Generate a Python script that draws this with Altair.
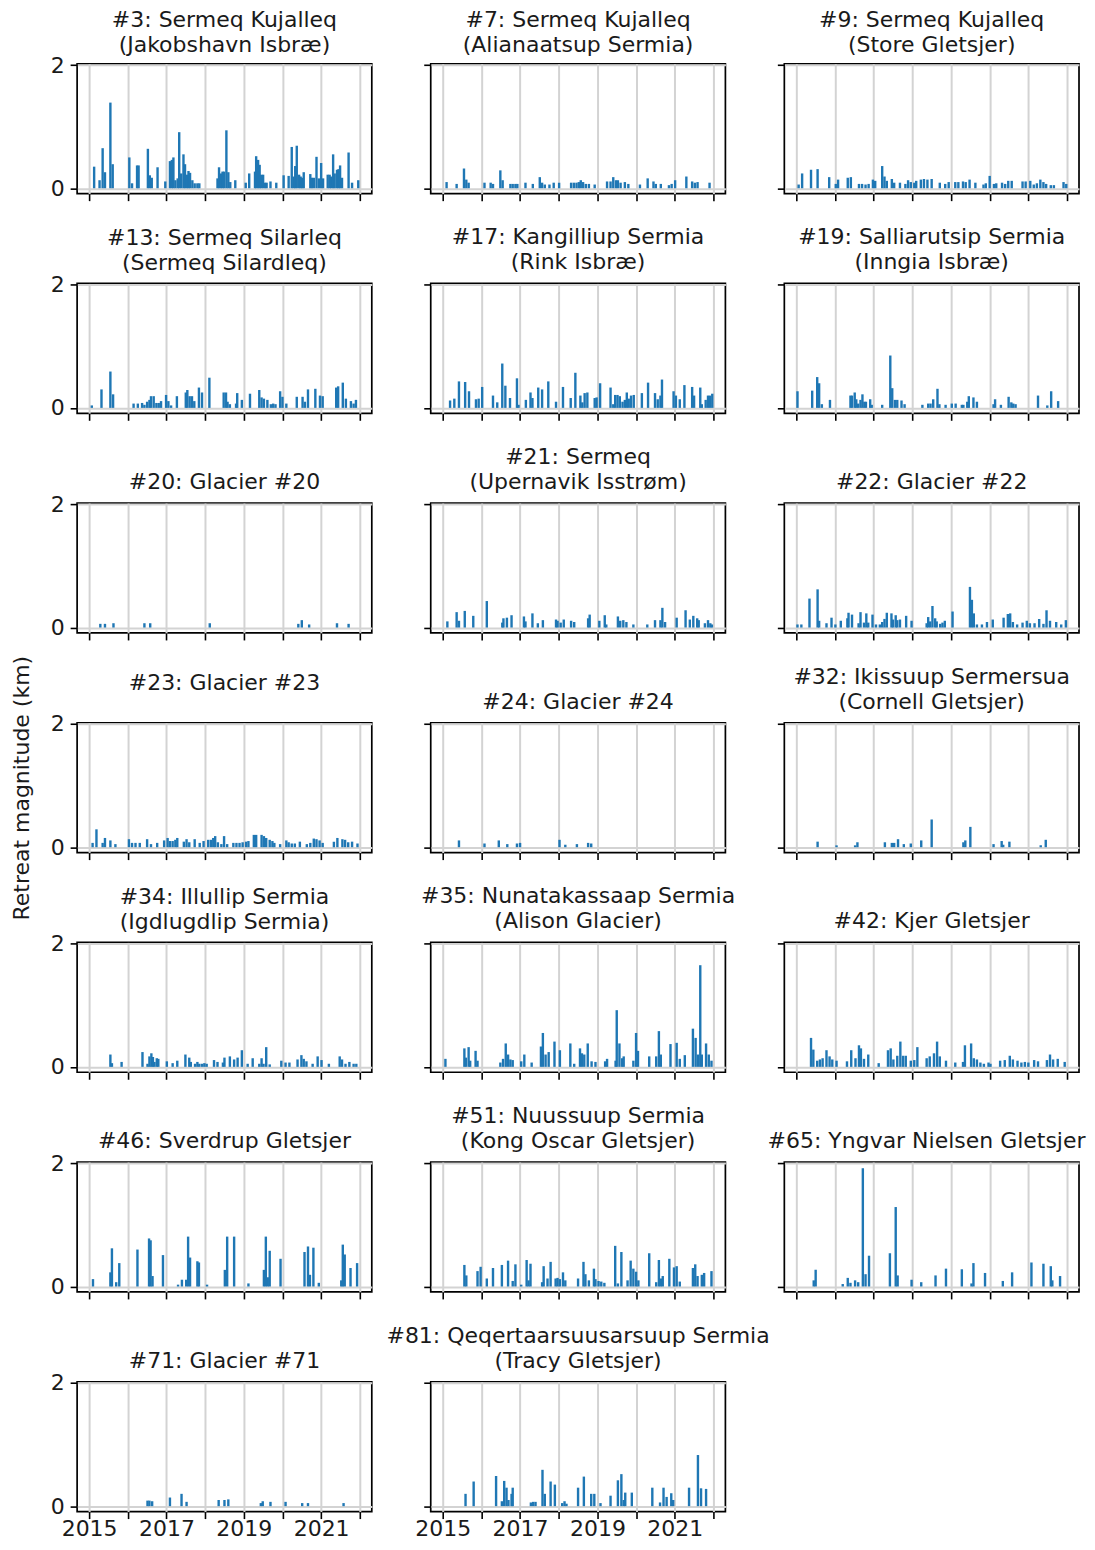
import altair as alt
import pandas as pd

g3 = [(2015.13,.35),(2015.27,.13),(2015.35,.65),(2015.41,.26),(2015.55,1.39),(2015.61,.39),(2016.04,.5),(2016.11,.08),(2016.24,.37),(2016.28,.37),(2016.52,.64),(2016.57,.21),(2016.62,.17),(2016.77,.34),(2016.97,.11),(2017.09,.44),(2017.14,.46),(2017.18,.5),(2017.23,.13),(2017.29,.16),(2017.33,.91),(2017.38,.24),(2017.44,.55),(2017.48,.39),(2017.53,.22),(2017.57,.28),(2017.61,.25),(2017.67,.13),(2017.73,.08),(2017.8,.08),(2017.85,.08),(2018.32,.16),(2018.36,.34),(2018.41,.24),(2018.45,.27),(2018.49,.27),(2018.55,.94),(2018.6,.26),(2018.65,.1),(2018.78,.13),(2019.05,.09),(2019.14,.24),(2019.29,.27),(2019.32,.52),(2019.37,.46),(2019.41,.38),(2019.45,.22),(2019.5,.22),(2019.55,.09),(2019.59,.09),(2019.69,.11),(2019.84,.09),(2020.03,.21),(2020.16,.2),(2020.24,.67),(2020.29,.19),(2020.33,.36),(2020.37,.69),(2020.43,.22),(2020.47,.19),(2020.51,.17),(2020.55,.26),(2020.72,.23),(2020.76,.17),(2020.81,.17),(2020.88,.51),(2020.94,.16),(2021.0,.41),(2021.05,.16),(2021.17,.22),(2021.22,.22),(2021.26,.19),(2021.31,.55),(2021.35,.24),(2021.41,.3),(2021.45,.31),(2021.49,.37),(2021.54,.17),(2021.71,.58),(2021.8,.09),(2021.96,.13)]
g7 = [(2015.10,.10),(2015.36,.07),(2015.55,.32),(2015.61,.14),(2015.67,.09),(2016.08,.09),(2016.24,.09),(2016.30,.07),(2016.49,.29),(2016.55,.13),(2016.75,.07),(2016.81,.07),(2016.88,.07),(2016.93,.07),(2017.14,.09),(2017.33,.07),(2017.51,.18),(2017.57,.09),(2017.64,.06),(2017.76,.06),(2017.87,.09),(2018.01,.09),(2018.32,.09),(2018.39,.09),(2018.46,.09),(2018.52,.1),(2018.57,.13),(2018.63,.1),(2018.70,.07),(2018.78,.07),(2018.93,.06),(2019.25,.11),(2019.34,.11),(2019.41,.18),(2019.48,.13),(2019.53,.13),(2019.6,.09),(2019.71,.1),(2019.8,.07),(2020.10,.06),(2020.30,.16),(2020.45,.11),(2020.51,.07),(2020.64,.07),(2020.85,.05),(2020.92,.07),(2021.01,.13),(2021.30,.19),(2021.45,.11),(2021.52,.09),(2021.59,.1),(2021.90,.09)]
g9 = [(2015.06,.06),(2015.15,.24),(2015.38,.3),(2015.55,.31),(2015.85,.18),(2016.02,.07),(2016.08,.14),(2016.33,.17),(2016.41,.18),(2016.62,.07),(2016.70,.07),(2016.79,.06),(2016.87,.07),(2016.98,.14),(2017.04,.12),(2017.22,.36),(2017.28,.19),(2017.34,.12),(2017.47,.15),(2017.53,.09),(2017.68,.09),(2017.82,.07),(2017.89,.13),(2017.96,.1),(2018.05,.09),(2018.1,.12),(2018.22,.14),(2018.3,.15),(2018.39,.14),(2018.5,.15),(2018.71,.09),(2018.85,.07),(2018.94,.1),(2019.11,.1),(2019.19,.1),(2019.31,.11),(2019.38,.1),(2019.48,.14),(2019.63,.09),(2019.84,.06),(2019.9,.08),(2020.0,.2),(2020.11,.07),(2020.17,.08),(2020.32,.09),(2020.4,.07),(2020.48,.12),(2020.57,.12),(2020.85,.11),(2020.93,.11),(2021.05,.12),(2021.14,.06),(2021.22,.08),(2021.31,.14),(2021.39,.1),(2021.46,.07),(2021.58,.05),(2021.66,.05),(2021.91,.1),(2021.98,.07)]
g13 = [(2015.07,.04),(2015.32,.3),(2015.55,.59),(2015.62,.22),(2016.15,.07),(2016.26,.07),(2016.37,.08),(2016.43,.05),(2016.5,.1),(2016.56,.13),(2016.6,.19),(2016.67,.19),(2016.74,.08),(2016.8,.08),(2016.86,.11),(2016.99,.21),(2017.05,.11),(2017.12,.04),(2017.27,.19),(2017.5,.25),(2017.54,.29),(2017.6,.19),(2017.66,.19),(2017.72,.11),(2017.84,.33),(2017.92,.25),(2018.11,.49),(2018.48,.25),(2018.54,.25),(2018.58,.1),(2018.64,.06),(2018.8,.07),(2018.83,.24),(2018.95,.13),(2019.16,.23),(2019.4,.29),(2019.46,.17),(2019.52,.15),(2019.61,.13),(2019.7,.06),(2019.76,.07),(2019.82,.06),(2019.94,.27),(2020.0,.18),(2020.1,.07),(2020.37,.18),(2020.52,.18),(2020.58,.1),(2020.66,.3),(2020.85,.31),(2020.97,.2),(2021.04,.19),(2021.39,.33),(2021.44,.35),(2021.56,.41),(2021.64,.15),(2021.77,.11),(2021.84,.07),(2021.9,.13)]
g17 = [(2015.19,.12),(2015.3,.15),(2015.42,.43),(2015.58,.42),(2015.68,.27),(2015.86,.14),(2015.93,.15),(2016.02,.34),(2016.3,.2),(2016.41,.09),(2016.54,.72),(2016.62,.36),(2016.74,.16),(2016.92,.48),(2016.96,.05),(2017.15,.13),(2017.27,.25),(2017.32,.16),(2017.47,.33),(2017.57,.3),(2017.73,.43),(2017.93,.1),(2018.11,.34),(2018.31,.16),(2018.43,.57),(2018.56,.2),(2018.61,.09),(2018.67,.24),(2018.74,.25),(2018.93,.16),(2018.98,.17),(2019.07,.4),(2019.34,.33),(2019.41,.06),(2019.46,.21),(2019.52,.21),(2019.58,.19),(2019.65,.1),(2019.71,.13),(2019.76,.25),(2019.81,.15),(2019.87,.2),(2019.94,.21),(2020.15,.24),(2020.31,.41),(2020.49,.24),(2020.56,.14),(2020.63,.2),(2020.67,.46),(2020.97,.27),(2021.03,.2),(2021.13,.14),(2021.25,.37),(2021.45,.34),(2021.5,.2),(2021.66,.33),(2021.7,.06),(2021.8,.13),(2021.86,.2),(2021.91,.2),(2021.97,.23)]
g19 = [(2015.03,.27),(2015.41,.28),(2015.54,.5),(2015.59,.4),(2015.66,.06),(2015.87,.13),(2016.4,.2),(2016.44,.2),(2016.51,.25),(2016.55,.14),(2016.6,.07),(2016.66,.13),(2016.71,.22),(2016.76,.1),(2016.8,.1),(2016.91,.14),(2016.95,.05),(2017.22,.05),(2017.43,.85),(2017.48,.32),(2017.55,.13),(2017.61,.13),(2017.72,.12),(2017.8,.06),(2018.26,.05),(2018.41,.07),(2018.47,.07),(2018.54,.14),(2018.65,.31),(2018.7,.06),(2018.86,.05),(2019.02,.07),(2019.12,.07),(2019.28,.05),(2019.32,.05),(2019.42,.1),(2019.46,.19),(2019.58,.17),(2019.67,.1),(2020.1,.06),(2020.14,.14),(2020.29,.05),(2020.49,.18),(2020.56,.09),(2020.61,.07),(2020.67,.06),(2021.25,.2),(2021.49,.04),(2021.59,.27),(2021.77,.11)]
g20 = [(2015.29,.06),(2015.41,.06),(2015.63,.07),(2016.43,.07),(2016.58,.07),(2018.12,.07),(2020.41,.06),(2020.5,.12),(2020.69,.05),(2021.41,.07),(2021.71,.06)]
g21 = [(2015.12,.1),(2015.36,.25),(2015.42,.11),(2015.57,.27),(2015.79,.19),(2016.14,.43),(2016.54,.08),(2016.57,.15),(2016.66,.16),(2016.78,.2),(2017.1,.18),(2017.14,.1),(2017.32,.23),(2017.46,.07),(2017.59,.12),(2017.93,.13),(2017.97,.11),(2018.05,.08),(2018.13,.13),(2018.32,.11),(2018.4,.09),(2018.76,.15),(2018.8,.21),(2019.05,.11),(2019.19,.2),(2019.23,.05),(2019.53,.18),(2019.59,.11),(2019.67,.12),(2019.75,.09),(2019.93,.05),(2020.29,.05),(2020.49,.12),(2020.63,.12),(2020.68,.32),(2020.75,.09),(2021.05,.16),(2021.28,.28),(2021.39,.13),(2021.48,.19),(2021.58,.15),(2021.62,.12),(2021.78,.07),(2021.86,.12),(2021.92,.07),(2021.96,.05)]
g22 = [(2015.03,.05),(2015.13,.05),(2015.34,.47),(2015.55,.62),(2015.59,.11),(2015.78,.07),(2015.91,.16),(2016.01,.05),(2016.15,.11),(2016.32,.15),(2016.35,.24),(2016.44,.21),(2016.61,.07),(2016.66,.25),(2016.75,.08),(2016.81,.23),(2016.86,.08),(2016.97,.21),(2017.06,.05),(2017.16,.05),(2017.22,.09),(2017.28,.14),(2017.34,.24),(2017.46,.23),(2017.5,.13),(2017.57,.2),(2017.61,.12),(2017.68,.13),(2017.84,.19),(2017.98,.11),(2018.37,.07),(2018.41,.17),(2018.46,.1),(2018.52,.35),(2018.59,.15),(2018.63,.1),(2018.72,.06),(2018.78,.08),(2018.84,.11),(2019.04,.26),(2019.49,.66),(2019.54,.45),(2019.59,.23),(2019.67,.05),(2019.8,.05),(2019.93,.09),(2020.08,.13),(2020.36,.16),(2020.47,.22),(2020.53,.23),(2020.6,.09),(2020.71,.05),(2020.85,.08),(2020.96,.11),(2021.04,.07),(2021.16,.07),(2021.28,.14),(2021.39,.06),(2021.47,.28),(2021.56,.11),(2021.72,.09),(2021.85,.05),(2021.97,.12)]
g23 = [(2015.09,.07),(2015.19,.29),(2015.35,.07),(2015.41,.15),(2015.55,.11),(2015.68,.05),(2016.03,.13),(2016.11,.07),(2016.2,.07),(2016.31,.07),(2016.5,.13),(2016.6,.05),(2016.76,.07),(2016.94,.11),(2017.03,.15),(2017.09,.1),(2017.16,.1),(2017.23,.12),(2017.28,.15),(2017.45,.09),(2017.52,.13),(2017.59,.08),(2017.73,.13),(2017.86,.07),(2017.96,.1),(2018.08,.12),(2018.15,.12),(2018.21,.15),(2018.26,.18),(2018.33,.08),(2018.42,.05),(2018.49,.18),(2018.57,.05),(2018.73,.07),(2018.81,.07),(2018.89,.07),(2018.97,.08),(2019.06,.09),(2019.12,.1),(2019.26,.2),(2019.32,.2),(2019.46,.2),(2019.52,.18),(2019.58,.15),(2019.67,.12),(2019.74,.1),(2019.79,.07),(2019.94,.05),(2020.1,.11),(2020.16,.08),(2020.24,.06),(2020.32,.06),(2020.45,.09),(2020.63,.05),(2020.72,.07),(2020.81,.14),(2020.88,.13),(2020.96,.11),(2021.04,.07),(2021.33,.09),(2021.42,.15),(2021.55,.13),(2021.62,.12),(2021.7,.08),(2021.8,.09),(2021.94,.06)]
g24 = [(2015.42,.11),(2016.08,.06),(2016.45,.11),(2016.67,.05),(2016.92,.06),(2017.0,.07),(2018.02,.12),(2018.17,.04),(2018.47,.05),(2018.76,.07),(2018.84,.06)]
g32 = [(2015.55,.09),(2016.04,.03),(2016.52,.03),(2016.58,.08),(2017.29,.08),(2017.47,.07),(2017.53,.07),(2017.63,.13),(2017.78,.05),(2017.96,.06),(2018.23,.11),(2018.5,.45),(2019.32,.08),(2019.37,.11),(2019.5,.33),(2020.1,.05),(2020.31,.1),(2020.35,.04),(2020.51,.09),(2021.32,.03),(2021.45,.12)]
g34 = [(2015.55,.2),(2015.59,.06),(2015.84,.08),(2016.38,.24),(2016.51,.05),(2016.56,.17),(2016.61,.22),(2016.65,.16),(2016.69,.08),(2016.75,.14),(2016.79,.13),(2017.01,.09),(2017.16,.06),(2017.28,.1),(2017.49,.2),(2017.59,.15),(2017.63,.08),(2017.74,.05),(2017.8,.08),(2017.85,.05),(2017.92,.05),(2017.98,.06),(2018.04,.05),(2018.23,.11),(2018.32,.08),(2018.46,.07),(2018.5,.15),(2018.64,.17),(2018.75,.12),(2018.84,.15),(2018.95,.27),(2019.1,.05),(2019.23,.14),(2019.4,.05),(2019.46,.14),(2019.51,.05),(2019.58,.32),(2019.67,.04),(2019.97,.1),(2020.08,.07),(2020.18,.07),(2020.39,.12),(2020.49,.19),(2020.55,.13),(2020.62,.09),(2020.78,.05),(2020.91,.17),(2021.01,.11),(2021.2,.05),(2021.48,.17),(2021.54,.12),(2021.63,.05),(2021.73,.08),(2021.84,.05),(2021.91,.05)]
g35 = [(2015.07,.13),(2015.56,.3),(2015.6,.15),(2015.67,.32),(2015.71,.1),(2015.85,.26),(2015.9,.1),(2016.49,.07),(2016.56,.13),(2016.63,.38),(2016.69,.2),(2016.75,.12),(2016.81,.11),(2017.03,.09),(2017.11,.2),(2017.3,.07),(2017.54,.33),(2017.59,.55),(2017.66,.2),(2017.74,.24),(2017.89,.41),(2018.03,.27),(2018.3,.38),(2018.4,.05),(2018.55,.3),(2018.6,.22),(2018.66,.2),(2018.75,.38),(2018.85,.09),(2018.95,.08),(2019.2,.09),(2019.25,.13),(2019.47,.1),(2019.5,.92),(2019.57,.38),(2019.64,.14),(2019.68,.17),(2019.93,.1),(2020.0,.55),(2020.05,.26),(2020.34,.17),(2020.52,.17),(2020.59,.58),(2020.64,.2),(2020.89,.37),(2021.05,.39),(2021.13,.13),(2021.26,.19),(2021.47,.62),(2021.54,.47),(2021.6,.2),(2021.66,1.65),(2021.7,.2),(2021.81,.38),(2021.88,.2),(2021.95,.1)]
g42 = [(2015.38,.47),(2015.44,.28),(2015.54,.1),(2015.61,.12),(2015.68,.14),(2015.78,.27),(2015.86,.17),(2015.93,.12),(2016.04,.1),(2016.31,.09),(2016.42,.27),(2016.53,.14),(2016.62,.35),(2016.67,.3),(2016.75,.13),(2016.86,.2),(2017.13,.06),(2017.37,.27),(2017.44,.3),(2017.51,.12),(2017.61,.18),(2017.69,.41),(2017.76,.18),(2017.83,.18),(2017.96,.1),(2018.05,.11),(2018.13,.32),(2018.37,.14),(2018.45,.17),(2018.56,.22),(2018.64,.41),(2018.71,.17),(2018.87,.1),(2019.11,.07),(2019.31,.08),(2019.36,.35),(2019.52,.38),(2019.59,.14),(2019.67,.12),(2019.76,.07),(2019.85,.05),(2019.97,.07),(2020.02,.05),(2020.27,.1),(2020.39,.11),(2020.52,.18),(2020.6,.12),(2020.72,.1),(2020.82,.07),(2020.91,.08),(2021.0,.07),(2021.15,.11),(2021.25,.09),(2021.48,.11),(2021.56,.2),(2021.64,.12),(2021.76,.13),(2021.94,.08)]
g46 = [(2015.1,.12),(2015.55,.23),(2015.59,.62),(2015.7,.07),(2015.78,.38),(2016.25,.6),(2016.55,.78),(2016.59,.75),(2016.64,.17),(2016.91,.51),(2017.3,.03),(2017.4,.11),(2017.51,.11),(2017.56,.81),(2017.61,.47),(2017.8,.41),(2017.84,.39),(2018.05,.03),(2018.51,.27),(2018.57,.81),(2018.75,.81),(2019.12,.05),(2019.52,.27),(2019.57,.81),(2019.62,.15),(2019.67,.58),(2019.95,.45),(2020.57,.56),(2020.66,.65),(2020.71,.19),(2020.8,.63),(2020.94,.06),(2021.52,.1),(2021.56,.68),(2021.61,.52),(2021.76,.3),(2021.93,.38)]
g51 = [(2015.56,.35),(2015.61,.18),(2015.9,.25),(2015.98,.32),(2016.14,.13),(2016.3,.3),(2016.53,.35),(2016.69,.42),(2016.81,.09),(2016.88,.36),(2017.03,.03),(2017.17,.43),(2017.22,.1),(2017.27,.37),(2017.57,.07),(2017.61,.33),(2017.71,.13),(2017.79,.4),(2017.92,.13),(2017.97,.14),(2018.03,.12),(2018.11,.23),(2018.17,.1),(2018.5,.13),(2018.64,.4),(2018.69,.2),(2018.78,.1),(2018.91,.29),(2018.95,.12),(2019.03,.09),(2019.1,.08),(2019.18,.06),(2019.46,.66),(2019.53,.05),(2019.62,.56),(2019.78,.1),(2019.86,.42),(2019.93,.29),(2020.0,.24),(2020.06,.1),(2020.34,.54),(2020.52,.07),(2020.59,.43),(2020.64,.13),(2020.69,.17),(2020.86,.45),(2020.98,.31),(2021.05,.33),(2021.13,.08),(2021.47,.3),(2021.53,.36),(2021.59,.17),(2021.7,.19),(2021.76,.22),(2021.95,.25)]
g65 = [(2015.45,.1),(2015.5,.27),(2016.2,.04),(2016.33,.14),(2016.4,.06),(2016.52,.1),(2016.6,.07),(2016.72,1.92),(2016.79,.2),(2016.88,.5),(2017.42,.54),(2017.57,1.29),(2017.62,.18),(2017.98,.11),(2018.23,.07),(2018.6,.18),(2018.87,.29),(2019.28,.28),(2019.53,.05),(2019.58,.38),(2019.88,.22),(2020.34,.09),(2020.58,.23),(2021.08,.39),(2021.39,.37),(2021.58,.33),(2021.62,.1),(2021.82,.17)]
g71 = [(2016.51,.09),(2016.56,.09),(2016.63,.08),(2017.09,.14),(2017.39,.2),(2017.52,.07),(2018.35,.1),(2018.5,.1),(2018.6,.11),(2019.44,.05),(2019.49,.08),(2019.69,.07),(2020.08,.07),(2020.51,.05),(2020.66,.05),(2021.58,.05)]
g81 = [(2015.59,.2),(2015.8,.4),(2016.38,.49),(2016.53,.08),(2016.59,.41),(2016.65,.3),(2016.7,.1),(2016.78,.2),(2016.81,.3),(2017.28,.06),(2017.34,.07),(2017.4,.07),(2017.58,.59),(2017.64,.2),(2017.79,.4),(2017.9,.35),(2018.09,.05),(2018.15,.08),(2018.2,.04),(2018.5,.3),(2018.65,.48),(2018.84,.2),(2018.92,.2),(2019.08,.05),(2019.34,.17),(2019.53,.42),(2019.62,.52),(2019.68,.1),(2019.72,.22),(2019.89,.22),(2020.42,.3),(2020.62,.06),(2020.71,.3),(2020.79,.15),(2020.91,.21),(2020.96,.1),(2021.37,.3),(2021.6,.83),(2021.68,.29),(2021.81,.28)]

panels = [
    (["#3: Sermeq Kujalleq", "(Jakobshavn Isbræ)"], g3),
    (["#7: Sermeq Kujalleq", "(Alianaatsup Sermia)"], g7),
    (["#9: Sermeq Kujalleq", "(Store Gletsjer)"], g9),
    (["#13: Sermeq Silarleq", "(Sermeq Silardleq)"], g13),
    (["#17: Kangilliup Sermia", "(Rink Isbræ)"], g17),
    (["#19: Salliarutsip Sermia", "(Inngia Isbræ)"], g19),
    ("#20: Glacier #20", g20),
    (["#21: Sermeq", "(Upernavik Isstrøm)"], g21),
    ("#22: Glacier #22", g22),
    ("#23: Glacier #23", g23),
    ("#24: Glacier #24", g24),
    (["#32: Ikissuup Sermersua", "(Cornell Gletsjer)"], g32),
    (["#34: Illullip Sermia", "(Igdlugdlip Sermia)"], g34),
    (["#35: Nunatakassaap Sermia", "(Alison Glacier)"], g35),
    ("#42: Kjer Gletsjer", g42),
    ("#46: Sverdrup Gletsjer", g46),
    (["#51: Nuussuup Sermia", "(Kong Oscar Gletsjer)"], g51),
    ("#65: Yngvar Nielsen Gletsjer", g65),
    ("#71: Glacier #71", g71),
    (["#81: Qeqertaarsuusarsuup Sermia", "(Tracy Gletsjer)"], g81),
]

year_ticks = [2015, 2016, 2017, 2018, 2019, 2020, 2021, 2022]
y_ticks = [0, 2]
FONT = "DejaVu Sans"
INK = "#1a1a1a"
GREY = "#d3d3d3"
FS = 22

def panel(i, title, rows):
    df = pd.DataFrame(rows, columns=["year", "retreat"])
    first_col = i % 3 == 0
    bottom = i >= 18
    # Titles sit above the axis bounds: the tick label and the axis title raise the left column's.
    offset = -40 if i == 9 else (-1 if first_col else 9)
    if i < 3:
        offset -= 2
    title_kw = dict(anchor="end", dx=6.5) if i == 17 else dict(anchor="middle")
    x_axis = alt.Axis(
        values=year_ticks, title=None, grid=True, gridColor=GREY, gridWidth=2,
        domain=False, ticks=True, tickColor="black", tickWidth=1.6, tickSize=7,
        labels=bottom, labelFontSize=FS, labelFont=FONT, labelColor=INK, labelPadding=0,
        labelExpr="datum.value % 2 == 1 ? format(datum.value, 'd') : ''",
        labelOverlap=False, labelFlush=False,
    )
    y_axis = alt.Axis(
        values=y_ticks, title="Retreat magnitude (km)" if i == 9 else None,
        titleFont=FONT, titleFontSize=FS, titleFontWeight="normal", titleColor=INK, titlePadding=17,
        grid=True, gridColor=GREY, gridWidth=2,
        domain=False, ticks=True, tickColor="black", tickWidth=1.6, tickSize=7,
        labels=first_col, labelFontSize=FS, labelFont=FONT, labelColor=INK, labelPadding=6,
        format="d",
    )
    return (
        alt.Chart(df)
        .mark_bar(size=2.4, color="#1f77b4")
        .encode(
            x=alt.X("year:Q", axis=x_axis, scale=alt.Scale(domain=[2014.69, 2022.31], nice=False, zero=False, padding=0)),
            y=alt.Y("retreat:Q", axis=y_axis, scale=alt.Scale(domain=[-0.088, 2.02], nice=False, zero=False)),
        )
        .properties(
            width=295, height=130,
            title=alt.TitleParams(title, font=FONT, fontSize=FS, fontWeight="normal", color=INK,
                                  lineHeight=25, offset=offset, **title_kw),
        )
    )

chart = (
    alt.concat(*[panel(i, t, r) for i, (t, r) in enumerate(panels)], columns=3,
               spacing={"row": 89.9, "column": 59}, bounds="flush")
    .properties(background="white", padding={"left": 1.2, "top": -1, "right": 0, "bottom": 0})
    .configure_view(stroke="black", strokeWidth=1.7)
)
chart.save("out.html", embed_options={"renderer": "svg", "actions": False})
